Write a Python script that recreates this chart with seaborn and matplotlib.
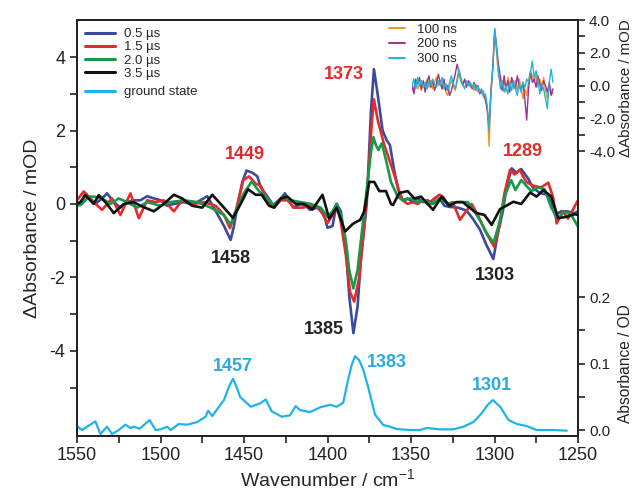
import numpy as np
import pandas as pd
import matplotlib
matplotlib.use("Agg")
import matplotlib.pyplot as plt
import seaborn as sns
from matplotlib.lines import Line2D
from matplotlib.ticker import MultipleLocator, FixedLocator, FormatStrFormatter

# ---------------- data ----------------
series_names = ["0.5 µs", "1.5 µs", "2.0 µs", "3.5 µs"]
series_colors = ["#3a4aa0", "#e42a2a", "#17994a", "#111111"]

wn_05 = [1550, 1548, 1545, 1542, 1539, 1535, 1532, 1528, 1524, 1520, 1516, 1512, 1508, 1504, 1500,
         1496, 1492, 1486, 1482, 1478, 1472, 1466, 1462, 1458, 1456, 1454, 1451, 1448.5, 1445, 1442,
         1440, 1436, 1432.5, 1428, 1425.5, 1420.5, 1416, 1413, 1410.5, 1406, 1402, 1400, 1397, 1394.5,
         1392, 1389, 1387, 1384.5, 1382, 1380, 1376.5, 1374, 1372.2, 1370, 1367, 1364.6, 1362.6, 1360,
         1357.6, 1355, 1352, 1349, 1346, 1343, 1340, 1337, 1333, 1330, 1327, 1322, 1316.7, 1313,
         1308.7, 1305, 1300.7, 1298, 1295, 1292.7, 1289.7, 1287, 1284, 1280, 1276.8, 1272.8, 1268,
         1263.8, 1260, 1256.8, 1252, 1250]
val_05 = [0.05, -0.03, 0.29, 0.15, 0.0, 0.15, 0.29, 0.05, -0.1, 0.05, 0.1, 0.1, 0.21, 0.15, 0.1,
          -0.05, 0.0, 0.05, 0.0, 0.05, 0.21, -0.27, -0.6, -0.98, -0.6, -0.07, 0.6, 0.91, 0.85, 0.75,
          0.45, 0.2, -0.03, 0.15, 0.29, -0.1, 0.0, -0.05, -0.16, -0.1, -0.3, -0.65, -0.6, 0.0,
          -0.2, -1.2, -2.5, -3.52, -2.8, -1.5, 0.0, 2.5, 3.67, 3.0, 2.0, 1.74, 1.6, 0.9,
          0.38, 0.1, 0.15, 0.05, 0.15, 0.05, 0.1, 0.0, 0.15, -0.05, -0.08, -0.1, -0.18, -0.4,
          -0.7, -1.1, -1.5, -0.8, -0.2, 0.5, 0.97, 0.85, 0.95, 0.7, 0.43, 0.3, 0.25,
          -0.3, -0.2, -0.2, -0.25, -0.2]

wn_15 = [1550, 1546, 1543, 1540, 1535, 1529, 1524, 1518, 1513, 1508, 1503, 1498, 1492, 1487, 1480,
         1474, 1467, 1462, 1458.4, 1455, 1450.4, 1447, 1443, 1440, 1436, 1432, 1428, 1424, 1420, 1415,
         1410, 1405, 1400, 1397, 1394.5, 1392, 1389, 1386.5, 1384, 1381, 1378, 1376, 1373.5, 1372.2,
         1370, 1366, 1363, 1360, 1357.5, 1355, 1352, 1349, 1346, 1343, 1340, 1336, 1333, 1331, 1328,
         1325, 1320.7, 1317, 1313.7, 1310, 1306, 1300.3, 1297, 1294, 1290.7, 1288, 1285, 1281, 1277,
         1272, 1267.8, 1265, 1262.8, 1259, 1256, 1250]
val_15 = [0.1, 0.34, 0.2, 0.05, -0.16, 0.15, -0.3, 0.29, -0.39, 0.1, 0.05, 0.1, -0.2, 0.1, 0.0,
          0.05, -0.05, -0.3, -0.66, -0.2, 0.65, 0.75, 0.55, 0.5, 0.1, -0.1, 0.1, 0.1, -0.1, -0.1,
          -0.06, -0.1, -0.52, -0.3, 0.0, -0.5, -1.4, -2.4, -2.66, -2.0, -0.6, 0.5, 2.2, 2.85,
          2.3, 1.6, 1.2, 0.8, 0.4, 0.1, 0.0, 0.05, 0.0, 0.1, 0.0, 0.15, 0.25, 0.2, 0.0,
          0.05, -0.43, -0.2, 0.0, -0.3, -0.7, -1.16, -0.6, 0.3, 0.93, 0.8, 0.93, 0.6, 0.5,
          0.45, 0.58, 0.2, -0.53, -0.2, -0.4, 0.1]

wn_20 = [1550, 1547, 1543, 1540, 1535, 1530, 1525, 1520, 1514, 1508, 1500, 1494, 1486, 1478, 1470,
         1462, 1458, 1455, 1450, 1445.4, 1441, 1437, 1432, 1427, 1422, 1416, 1410, 1404, 1400, 1397,
         1394.5, 1392, 1389, 1387, 1384.5, 1382, 1380, 1377, 1374, 1372.5, 1371, 1369.5, 1367.5, 1365,
         1362, 1358, 1355, 1350, 1346, 1342, 1338, 1333, 1328, 1322, 1316, 1312, 1308, 1304, 1300.5,
         1297, 1294, 1290, 1287.5, 1284, 1278, 1274, 1270, 1266, 1262, 1258, 1254, 1250]
val_20 = [-0.05, 0.0, 0.2, 0.2, 0.15, 0.0, 0.15, 0.05, -0.1, 0.05, -0.05, 0.05, 0.1, 0.05, -0.1,
          -0.3, -0.56, -0.2, 0.3, 0.61, 0.35, 0.2, -0.05, 0.18, 0.1, 0.05, 0.0, -0.1, -0.35, -0.2,
          0.0, -0.3, -1.0, -1.8, -2.3, -1.8, -1.0, 0.2, 1.4, 1.82, 1.6, 1.47, 1.65, 1.2,
          0.6, 0.2, 0.1, 0.15, 0.05, 0.1, 0.0, 0.15, 0.0, 0.05, 0.05, -0.2, -0.5, -0.85, -1.05,
          -0.5, 0.2, 0.65, 0.38, 0.65, 0.35, 0.45, 0.4, -0.1, -0.4, -0.2, -0.3, -0.62]

wn_35 = [1550, 1548, 1545, 1540, 1537, 1532, 1528, 1522, 1516, 1512, 1504, 1498, 1492, 1487, 1481,
         1475, 1469, 1463, 1456.6, 1452, 1447.6, 1443, 1439.4, 1435, 1432, 1428, 1424, 1419, 1414,
         1409, 1403, 1399, 1394.5, 1389.5, 1385, 1382.5, 1380.5, 1378, 1375, 1372, 1369, 1365, 1362,
         1360.8, 1357, 1352, 1348, 1344, 1340, 1336.8, 1331.6, 1327, 1323, 1319, 1315, 1310.7, 1306,
         1301.7, 1296.7, 1293, 1288.7, 1284, 1278.7, 1274.8, 1270.8, 1266, 1261.8, 1257, 1252, 1250]
val_35 = [0.0, 0.05, 0.24, 0.0, 0.24, 0.0, -0.25, 0.0, 0.05, -0.05, -0.2, 0.0, 0.25, 0.15, -0.05,
          -0.1, 0.25, -0.05, -0.38, 0.0, 0.4, 0.25, 0.25, -0.05, -0.1, 0.15, 0.2, 0.0, 0.0,
          -0.15, 0.25, -0.4, -0.1, -0.75, -0.55, -0.48, -0.44, -0.2, 0.6, 0.6, 0.35, 0.35, 0.0,
          -0.03, 0.3, 0.35, 0.15, 0.2, 0.0, -0.16, 0.2, -0.05, 0.05, 0.05, -0.1, -0.25, -0.3,
          -0.57, -0.14, -0.05, 0.06, 0.0, 0.31, 0.2, 0.38, 0.2, -0.39, -0.35, -0.28, -0.3]

# ground state absorbance (OD)
wn_gs = [1550, 1547, 1539, 1536, 1532, 1529, 1525, 1521, 1518, 1516, 1512.5, 1506.5, 1503, 1500,
         1496, 1494, 1489, 1484, 1478, 1473, 1471.5, 1469, 1465, 1462, 1459, 1456.6, 1454, 1452.4,
         1446, 1440.4, 1437, 1433.4, 1427.4, 1422.5, 1419, 1416.5, 1410.5, 1404.5, 1398.5, 1394.5,
         1390.6, 1387.7, 1385.5, 1383.5, 1381, 1378.5, 1375.7, 1371.5, 1366.6, 1362.6, 1358.6,
         1350.6, 1344.6, 1340.6, 1332.6, 1324.6, 1318.6, 1312.6, 1307.7, 1304, 1301, 1296.6,
         1291.6, 1286.6, 1280.7, 1274.7, 1264.7, 1256.7]
abs_gs = [0.006, 0.0, 0.013, -0.006, 0.005, -0.006, 0.0, 0.008, 0.003, 0.005, 0.002, 0.015, 0.0, 0.001,
          0.005, 0.0, 0.009, 0.008, 0.012, 0.02, 0.029, 0.021, 0.035, 0.045, 0.065, 0.077, 0.062, 0.05,
          0.035, 0.04, 0.046, 0.028, 0.02, 0.022, 0.036, 0.03, 0.027, 0.034, 0.038, 0.035,
          0.041, 0.075, 0.098, 0.111, 0.105, 0.09, 0.065, 0.023, 0.0075, 0.005, 0.0015,
          0.0, 0.0, 0.003, 0.001, 0.001, 0.005, 0.012, 0.025, 0.038, 0.045, 0.035,
          0.015, 0.009, 0.006, 0.0, 0.0, -0.001]

# inset: early-time spectra (same wavenumber range, compressed)
inset_names = ["100 ns", "200 ns", "300 ns"]
inset_colors = ["#f7931e", "#a0308f", "#22b5d6"]
wn_inset = list(range(1550, 1249, -4))
val_100 = [0.2, -0.3, 0.3, -0.2, 0.1, -0.3, 0.2, 0.0, 0.4, -0.1,
           0.3, -0.2, 0.2, 0.5, 0.0, 0.3, -0.2, 0.0, -0.4, -0.6,
           0.0, 0.3, 0.0, -0.3, 0.2, 0.9, 0.5, 0.1, 0.3, 0.0,
           0.2, -0.1, 0.0, -0.3, 0.1, -0.4, -0.2, -0.5, -0.3, -0.9,
           -1.3, -3.7, -0.5, 1.0, 3.3, 2.0, 0.5, 0.6, -0.2, 0.3,
           -0.4, 0.5, 0.0, 0.4, -0.2, 0.3, -0.3, 0.4, -0.1, -0.8,
           -0.2, -0.6, 0.3, 0.9, 0.6, 0.2, 0.7, -0.1, 0.4, -0.2,
           0.5, -0.3, -0.8, 0.0, -0.3, -0.5]
val_200 = [0.0, -0.5, 0.4, 0.1, 0.5, -0.2, 0.3, -0.4, 0.2, 0.6,
           -0.1, 0.3, -0.3, 0.1, 0.7, 0.2, -0.2, 0.4, -0.3, 0.0,
           -0.6, -0.3, 0.2, 0.7, 1.3, 0.8, 0.3, 0.0, 0.4, -0.1,
           0.3, 0.1, -0.2, 0.2, -0.2, 0.0, -0.5, -0.3, -0.6, -0.8,
           -1.5, -2.5, -0.3, 1.2, 3.4, 2.4, 1.3, 0.5, -0.3, 0.6,
           -0.2, 0.3, -0.4, 0.5, 0.1, -0.2, 0.6, 0.0, -0.3, 0.2,
           -0.8, -2.1, -0.2, 0.8, 0.2, 0.4, -0.1, 0.6, 0.1, -0.3,
           0.3, 0.0, -0.4, 0.2, -0.6, -0.2]
val_300 = [0.0, 0.4, -0.2, 0.5, 0.0, 0.3, -0.1, 0.2, -0.2, 0.3,
           0.0, 0.4, 0.1, -0.1, 0.3, 0.0, 0.5, -0.2, 0.1, -0.3,
           0.2, 0.6, 0.1, -0.2, 0.4, 1.0, 0.3, 0.1, -0.2, 0.3,
           0.0, 0.2, -0.1, 0.1, -0.3, 0.0, -0.4, -0.2, -0.7, -0.5,
           -1.2, -2.8, -0.4, 1.1, 3.5, 2.2, 0.9, -0.2, 0.3, -0.4,
           0.0, -0.5, 0.2, -0.3, 0.3, -0.2, -0.6, 0.1, -0.4, 0.2,
           -0.1, 0.4, 0.2, 0.8, 1.5, 0.5, 0.9, 0.3, -0.5, 0.1,
           -0.2, -0.8, -1.4, 0.2, 1.0, 0.2]

# peak labels (text, wavenumber, value, colour)
main_labels = [("1449", 1449.4, 1.35, "#e42a2a"), ("1458", 1457.8, -1.49, "#222222"),
               ("1373", 1390.0, 3.53, "#e42a2a"), ("1385", 1402.0, -3.42, "#222222"),
               ("1303", 1299.7, -1.95, "#222222"), ("1289", 1283.0, 1.44, "#e42a2a")]
gs_labels = [("1457", 1456.6, 0.095), ("1383", 1364.4, 0.1015), ("1301", 1301.5, 0.067)]

# ---------------- style ----------------
sns.set_theme(style="ticks")
plt.rcParams['font.family'] = ['Liberation Sans', 'DejaVu Sans']
plt.rcParams['axes.unicode_minus'] = False
plt.rcParams['mathtext.fontset'] = 'custom'
plt.rcParams['mathtext.rm'] = 'Liberation Sans'
plt.rcParams['mathtext.it'] = 'Liberation Sans:italic'
plt.rcParams['mathtext.default'] = 'regular'

W, H = 641, 490
fig = plt.figure(figsize=(W / 100, H / 100), dpi=100)
L, R, T, B = 77, 578, 20, 436
ax = fig.add_axes([L / W, 1 - B / H, (R - L) / W, (B - T) / H])

# transient spectra
frames = []
for name, wn, vals in zip(series_names, [wn_05, wn_15, wn_20, wn_35], [val_05, val_15, val_20, val_35]):
    frames.append(pd.DataFrame({"wn": wn, "val": vals, "series": name}))
df = pd.concat(frames, ignore_index=True)
sns.lineplot(data=df, x="wn", y="val", hue="series", hue_order=series_names,
             palette=dict(zip(series_names, series_colors)), sort=False, estimator=None,
             linewidth=1.9, legend=False, ax=ax)

ax.set_xlim(1550, 1250)
ax.set_ylim(-6.32, 5.01)
ax.xaxis.set_major_locator(MultipleLocator(50))
ax.xaxis.set_minor_locator(MultipleLocator(25))
ax.set_yticks([-4, -2, 0, 2, 4])
ax.yaxis.set_minor_locator(FixedLocator([-5, -3, -1, 1, 3]))
ax.tick_params(axis='both', which='both', direction='out', length=5, width=1.2, colors='#222222',
               labelsize=13, top=False, right=False)
ax.tick_params(axis='x', pad=3)
for s in ax.spines.values():
    s.set_linewidth(1.3)
    s.set_color('#222222')
ax.set_xlabel("Wavenumber / cm$^{-1}$", fontsize=14, labelpad=3)
ax.set_ylabel("ΔAbsorbance / mOD", fontsize=14, labelpad=6)

for txt, x, y, c in main_labels:
    ax.text(x, y, txt, color=c, fontsize=13, fontweight='bold', ha='center', va='center')

# ground state on absorbance axis
ax_abs = ax.twinx()
gdf = pd.DataFrame({"wn": wn_gs, "A": abs_gs})
sns.lineplot(data=gdf, x="wn", y="A", color="#1eb4e8", linewidth=1.6, sort=False, estimator=None, ax=ax_abs)
ax_abs.set_xlim(1550, 1250)
ax_abs.set_ylim(-0.009, 0.6165)
ax_abs.set_yticks([0.0, 0.1, 0.2])
ax_abs.yaxis.set_minor_locator(FixedLocator([0.05, 0.15]))
ax_abs.yaxis.set_major_formatter(FormatStrFormatter('%.1f'))
ax_abs.tick_params(axis='y', which='both', direction='out', length=5, width=1.2, colors='#222222',
                   labelsize=11, pad=3)
ax_abs.set_ylabel("")
for s in ax_abs.spines.values():
    s.set_linewidth(1.3)
    s.set_color('#222222')
for txt, x, y in gs_labels:
    ax_abs.text(x, y, txt, color="#29abe2", fontsize=13, fontweight='bold', ha='center', va='center')

# inset
IL = 412
ax_in = fig.add_axes([IL / W, 1 - B / H, (R - IL) / W, (B - T) / H])
ax_in.patch.set_visible(False)
idf = pd.concat([pd.DataFrame({"wn": wn_inset, "val": v, "series": n})
                 for n, v in zip(inset_names, [val_100, val_200, val_300])], ignore_index=True)
sns.lineplot(data=idf, x="wn", y="val", hue="series", hue_order=inset_names,
             palette=dict(zip(inset_names, inset_colors)), sort=False, estimator=None,
             linewidth=1.0, legend=False, ax=ax_in)
ax_in.set_xlim(1550, 1550 - (R - IL) * 300 / 141)
px_per_unit = 16.4
ax_in.set_ylim(4.0 - (B - T) / px_per_unit, 4.0)
for s in ax_in.spines.values():
    s.set_visible(False)
ax_in.set_xticks([])
ax_in.set_xlabel("")
ax_in.set_ylabel("")
ax_in.yaxis.tick_right()
ax_in.set_yticks([-4, -2, 0, 2, 4])
ax_in.yaxis.set_minor_locator(FixedLocator([-3, -1, 1, 3]))
ax_in.yaxis.set_major_formatter(FormatStrFormatter('%.1f'))
ax_in.tick_params(axis='y', which='both', direction='out', length=5, width=1.2, colors='#222222',
                  labelsize=11, pad=3, left=False, right=True)

# legends
h_main = [Line2D([], [], color=c, lw=2.2) for c in series_colors]
leg1 = ax.legend(h_main, series_names, loc='upper left', bbox_to_anchor=(0.0, 1.0),
                 frameon=False, fontsize=9.5, handlelength=2.3, handletextpad=0.7,
                 labelspacing=0.08, borderaxespad=0.4, borderpad=0.2)
ax.add_artist(leg1)
leg2 = ax.legend([Line2D([], [], color="#1eb4e8", lw=2.2)], ["ground state"], loc='upper left',
                 bbox_to_anchor=(0.0, 1 - 58 / (B - T)), frameon=False, fontsize=9.5, handlelength=2.3,
                 handletextpad=0.7, borderaxespad=0.4, borderpad=0.2)
h_in = [Line2D([], [], color=c, lw=1.4) for c in inset_colors]
fig.legend(h_in, inset_names, loc='upper left', bbox_to_anchor=(388 / W, 1 - 22 / H),
           frameon=False, fontsize=9.5, handlelength=1.2, handletextpad=0.9, labelspacing=0.2,
           borderpad=0.1, borderaxespad=0.0)

# right-side axis titles
fig.text(626 / W, 1 - 88 / H, "ΔAbsorbance / mOD", rotation=90, ha='center', va='center',
         fontsize=10.8, color='#222222')
fig.text(626 / W, 1 - 364 / H, "Absorbance / OD", rotation=90, ha='center', va='center',
         fontsize=11.2, color='#222222')

fig.savefig("out.png", dpi=100)
